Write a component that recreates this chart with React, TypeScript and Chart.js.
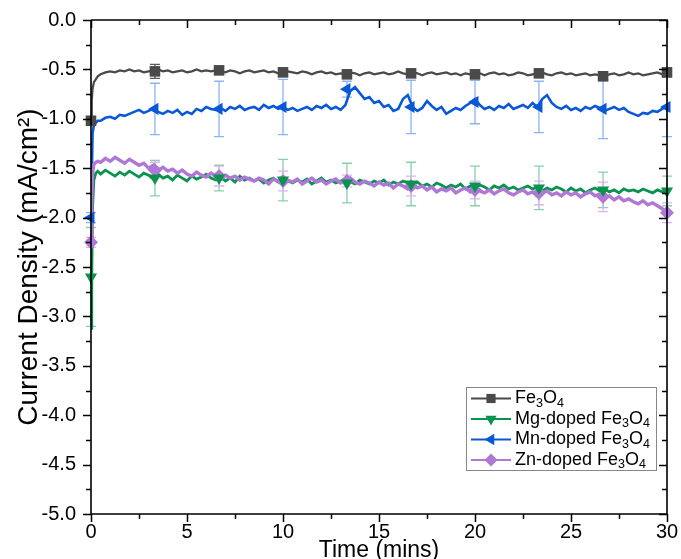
import React, { useEffect, useRef } from 'react';
import { Chart, registerables } from 'chart.js';

Chart.register(...registerables);

// ---------- data ----------
const headTimes = [0, 0.04, 0.08, 0.15, 0.25, 0.35];
const gridStart = 0.5;
const gridStep = 0.25;
const gridCount = 119; // 0.5 .. 30
const timeMins: number[] = [...headTimes];
for (let k = 0; k < gridCount; k++) timeMins.push(+(gridStart + k * gridStep).toFixed(2));

const fe3o4 = [
  -1.04, -0.82, -0.70, -0.63, -0.60, -0.57,
  -0.55, -0.53, -0.52, -0.53, -0.51, -0.52, -0.50, -0.52,
  -0.51, -0.53, -0.52, -0.51, -0.50, -0.52, -0.51, -0.53,
  -0.52, -0.51, -0.53, -0.52, -0.50, -0.52, -0.51, -0.52,
  -0.51, -0.52, -0.53, -0.51, -0.52, -0.54, -0.52, -0.51,
  -0.53, -0.52, -0.51, -0.53, -0.52, -0.54, -0.53, -0.52,
  -0.53, -0.54, -0.52, -0.53, -0.55, -0.53, -0.52, -0.54,
  -0.53, -0.55, -0.54, -0.55, -0.53, -0.54, -0.56, -0.54,
  -0.53, -0.55, -0.54, -0.53, -0.55, -0.54, -0.52, -0.54,
  -0.55, -0.53, -0.54, -0.56, -0.54, -0.53, -0.55, -0.54,
  -0.53, -0.55, -0.54, -0.56, -0.54, -0.55, -0.53, -0.54,
  -0.56, -0.54, -0.53, -0.55, -0.54, -0.56, -0.55, -0.53,
  -0.54, -0.56, -0.55, -0.54, -0.53, -0.55, -0.56, -0.54,
  -0.53, -0.55, -0.54, -0.56, -0.55, -0.54, -0.56, -0.55,
  -0.56, -0.57, -0.55, -0.54, -0.56, -0.55, -0.53, -0.55,
  -0.54, -0.56, -0.55, -0.54, -0.53, -0.55, -0.53,
];

const mgDoped = [
  -3.12, -2.60, -1.90, -1.62, -1.55, -1.53,
  -1.56, -1.52, -1.55, -1.58, -1.54, -1.57, -1.53, -1.56,
  -1.59, -1.55, -1.57, -1.61, -1.56, -1.60, -1.58, -1.62,
  -1.57, -1.60, -1.63, -1.58, -1.61, -1.59, -1.56, -1.60,
  -1.62, -1.59, -1.63, -1.60, -1.64, -1.58, -1.62, -1.60,
  -1.63, -1.61, -1.65, -1.62, -1.60, -1.64, -1.61, -1.63,
  -1.65, -1.62, -1.64, -1.61, -1.66, -1.63, -1.60, -1.64,
  -1.62, -1.65, -1.63, -1.61, -1.64, -1.66, -1.62, -1.64,
  -1.66, -1.63, -1.65, -1.62, -1.67, -1.64, -1.66, -1.63,
  -1.65, -1.67, -1.64, -1.68, -1.66, -1.69, -1.65, -1.67,
  -1.70, -1.67, -1.69, -1.66, -1.71, -1.68, -1.70, -1.67,
  -1.69, -1.72, -1.68, -1.70, -1.67, -1.71, -1.69, -1.72,
  -1.70, -1.68, -1.71, -1.69, -1.73, -1.70, -1.72, -1.69,
  -1.71, -1.74, -1.70, -1.73, -1.71, -1.75, -1.72, -1.70,
  -1.73, -1.71, -1.74, -1.72, -1.75, -1.71, -1.73, -1.72,
  -1.74, -1.71, -1.73, -1.75, -1.72, -1.74, -1.73,
];

const mnDoped = [
  -2.05, -1.60, -1.15, -1.06, -1.04, -1.02,
  -1.02, -0.99, -0.98, -1.00, -0.96, -0.97, -0.95, -0.93,
  -0.91, -0.94, -0.92, -0.90, -0.93, -0.95, -0.92, -0.94,
  -0.91, -0.96, -0.93, -0.95, -0.90, -0.92, -0.88, -0.90,
  -0.91, -0.89, -0.92, -0.88, -0.90, -0.87, -0.91, -0.89,
  -0.88, -0.91, -0.86, -0.89, -0.87, -0.90, -0.88, -0.91,
  -0.89, -0.92, -0.90, -0.88, -0.91, -0.87, -0.89, -0.86,
  -0.90, -0.88, -0.91, -0.86, -0.72, -0.68, -0.74, -0.80,
  -0.78, -0.84, -0.82, -0.88, -0.86, -0.92, -0.90, -0.80,
  -0.76, -0.88, -0.92, -0.89, -0.82, -0.87, -0.91, -0.88,
  -0.95, -0.92, -0.89, -0.91, -0.87, -0.84, -0.80, -0.86,
  -0.90, -0.88, -0.91, -0.87, -0.89, -0.85, -0.90, -0.88,
  -0.86, -0.89, -0.84, -0.88, -0.80, -0.76, -0.84, -0.88,
  -0.90, -0.87, -0.91, -0.89, -0.92, -0.88, -0.90, -0.87,
  -0.89, -0.92, -0.90, -0.88, -0.91, -0.89, -0.93, -0.95,
  -0.97, -0.94, -0.95, -0.92, -0.93, -0.90, -0.87,
];

const znDoped = [
  -2.25, -1.85, -1.55, -1.46, -1.44, -1.43,
  -1.44, -1.40, -1.43, -1.39, -1.42, -1.45, -1.41, -1.44,
  -1.47, -1.45, -1.50, -1.47, -1.52, -1.49, -1.53, -1.51,
  -1.55, -1.52, -1.56, -1.58, -1.54, -1.57, -1.59, -1.55,
  -1.58, -1.61, -1.57, -1.60, -1.58, -1.62, -1.59, -1.61,
  -1.63, -1.60, -1.62, -1.66, -1.61, -1.63, -1.65, -1.62,
  -1.64, -1.61, -1.66, -1.63, -1.60, -1.64, -1.62, -1.66,
  -1.63, -1.61, -1.65, -1.62, -1.60, -1.64, -1.66, -1.63,
  -1.65, -1.68, -1.64, -1.67, -1.65, -1.70, -1.66, -1.68,
  -1.71, -1.67, -1.70, -1.68, -1.72, -1.69, -1.74, -1.71,
  -1.73, -1.70, -1.75, -1.72, -1.70, -1.74, -1.71, -1.73,
  -1.75, -1.72, -1.76, -1.73, -1.71, -1.75, -1.77, -1.74,
  -1.72, -1.76, -1.74, -1.78, -1.75, -1.73, -1.77, -1.75,
  -1.78, -1.74, -1.77, -1.75, -1.79, -1.76, -1.74, -1.78,
  -1.76, -1.80, -1.78, -1.82, -1.79, -1.83, -1.81, -1.84,
  -1.86, -1.83, -1.87, -1.85, -1.88, -1.91, -1.95,
];

const markerTimes = [0, 3.33, 6.67, 10, 13.33, 16.67, 20, 23.33, 26.67, 30];
const feMarkers = [-1.02, -0.52, -0.51, -0.53, -0.55, -0.54, -0.55, -0.54, -0.57, -0.53];
const feErrors = [0.03, 0.07, 0.04, 0.04, 0.03, 0.03, 0.03, 0.03, 0.04, 0.04];
const mgMarkers = [-2.6, -1.6, -1.6, -1.62, -1.65, -1.66, -1.68, -1.7, -1.72, -1.73];
const mgErrors = [0.5, 0.18, 0.13, 0.21, 0.2, 0.22, 0.2, 0.22, 0.18, 0.15];
const mnMarkers = [-2.0, -0.9, -0.9, -0.88, -0.7, -0.88, -0.83, -0.88, -0.9, -0.88];
const mnErrors = [0.05, 0.26, 0.28, 0.28, 0.08, 0.27, 0.22, 0.26, 0.3, 0.3];
const znMarkers = [-2.25, -1.52, -1.58, -1.63, -1.63, -1.68, -1.72, -1.75, -1.79, -1.95];
const znErrors = [0.05, 0.08, 0.1, 0.1, 0.06, 0.1, 0.09, 0.12, 0.15, 0.1];

const seriesNames = ['Fe3O4', 'Mg-doped Fe3O4', 'Mn-doped Fe3O4', 'Zn-doped Fe3O4'];
const yTickMin = -5;
const yTickMax = 0;
const xTickMin = 0;
const xTickMax = 30;

// ---------- styles ----------
const FONT = "'Liberation Sans', Arial, sans-serif";
const styles = [
  { color: '#4a4a4a', err: '#5a5a5a', shape: 'rect', rot: 0, lw: 2.2 },
  { color: '#09934f', err: '#8ccfa9', shape: 'triangle', rot: 180, lw: 2.8 },
  { color: '#0a58d6', err: '#8ab5f0', shape: 'triangle', rot: 270, lw: 2.6 },
  { color: '#b078d6', err: '#dcb3ef', shape: 'rectRot', rot: 0, lw: 3.4 },
];
const seriesValues = [fe3o4, mgDoped, mnDoped, znDoped];
const markerValues = [feMarkers, mgMarkers, mnMarkers, znMarkers];
const errorValues = [feErrors, mgErrors, mnErrors, znErrors];
const lineOrder = [4, 2, 3, 1];

const isMajor = (v: number, step: number) => Math.abs(v / step - Math.round(v / step)) < 1e-6;

function drawMarker(ctx: CanvasRenderingContext2D, shape: string, rot: number, x: number, y: number, r: number) {
  ctx.beginPath();
  if (shape === 'rect') {
    const s = r * Math.SQRT1_2;
    ctx.rect(x - s, y - s, 2 * s, 2 * s);
  } else if (shape === 'rectRot') {
    ctx.moveTo(x, y - r);
    ctx.lineTo(x + r, y);
    ctx.lineTo(x, y + r);
    ctx.lineTo(x - r, y);
    ctx.closePath();
  } else {
    let a = (rot * Math.PI) / 180;
    ctx.moveTo(x + Math.sin(a) * r, y - Math.cos(a) * r);
    for (let k = 0; k < 2; k++) {
      a += (2 * Math.PI) / 3;
      ctx.lineTo(x + Math.sin(a) * r, y - Math.cos(a) * r);
    }
    ctx.closePath();
  }
  ctx.fill();
}

const errorBarPlugin = {
  id: 'errorBars',
  beforeDatasetsDraw(chart: any) {
    const { ctx, scales } = chart;
    const xs = scales.x;
    const ys = scales.y;
    ctx.save();
    chart.data.datasets.forEach((ds: any) => {
      if (!ds.errorBars) return;
      ctx.strokeStyle = ds.errorColor;
      ctx.lineWidth = 1.3;
      ds.data.forEach((p: any, j: number) => {
        const e = ds.errorBars[j];
        const x = xs.getPixelForValue(p.x);
        const y1 = ys.getPixelForValue(p.y + e);
        const y2 = ys.getPixelForValue(p.y - e);
        ctx.beginPath();
        ctx.moveTo(x, y1);
        ctx.lineTo(x, y2);
        ctx.moveTo(x - 5, y1);
        ctx.lineTo(x + 5, y1);
        ctx.moveTo(x - 5, y2);
        ctx.lineTo(x + 5, y2);
        ctx.stroke();
      });
    });
    ctx.restore();
  },
};

const framePlugin = {
  id: 'frame',
  afterDatasetsDraw(chart: any) {
    const { ctx, chartArea: a, scales } = chart;
    ctx.save();
    ctx.strokeStyle = '#000';
    ctx.lineWidth = 1.6;
    ctx.beginPath();
    ctx.moveTo(a.left, a.top);
    ctx.lineTo(a.right, a.top);
    ctx.lineTo(a.right, a.bottom);
    ctx.moveTo(a.left, a.top);
    ctx.lineTo(a.left, a.bottom);
    ctx.lineTo(a.right, a.bottom);
    ctx.stroke();
    ctx.lineWidth = 1.5;
    ctx.beginPath();
    scales.y.ticks.forEach((t: any) => {
      const y = Math.round(scales.y.getPixelForValue(t.value)) + 0.5;
      const len = isMajor(t.value, 0.5) ? 8 : 5;
      ctx.moveTo(a.left - len, y);
      ctx.lineTo(a.left, y);
      ctx.moveTo(a.right, y);
      ctx.lineTo(a.right - len, y);
    });
    scales.x.ticks.forEach((t: any) => {
      const x = Math.round(scales.x.getPixelForValue(t.value)) + 0.5;
      const len = isMajor(t.value, 5) ? 8 : 5;
      ctx.moveTo(x, a.bottom);
      ctx.lineTo(x, a.bottom + len);
      ctx.moveTo(x, a.top);
      ctx.lineTo(x, a.top + len);
    });
    ctx.stroke();
    ctx.restore();
  },
};

const legendPlugin = {
  id: 'customLegend',
  afterDraw(chart: any) {
    const { ctx } = chart;
    const box = { x: 466, y: 387, w: 190, h: 83 };
    ctx.save();
    ctx.fillStyle = '#fff';
    ctx.fillRect(box.x, box.y, box.w, box.h);
    ctx.strokeStyle = '#888';
    ctx.lineWidth = 1;
    ctx.strokeRect(box.x + 0.5, box.y + 0.5, box.w, box.h);
    seriesNames.forEach((name, i) => {
      const st = styles[i];
      const y = box.y + 11.5 + i * 20.5;
      ctx.strokeStyle = st.color;
      ctx.lineWidth = 2.2;
      ctx.beginPath();
      ctx.moveTo(box.x + 5, y);
      ctx.lineTo(box.x + 45, y);
      ctx.stroke();
      ctx.fillStyle = st.color;
      drawMarker(ctx, st.shape, st.rot, box.x + 25, y, 6.5);
      ctx.fillStyle = '#000';
      ctx.textBaseline = 'middle';
      let x = box.x + 49;
      const parts = name.match(/\d|[^\d]+/g) || [];
      parts.forEach((p) => {
        if (/^\d$/.test(p)) {
          ctx.font = `12.5px ${FONT}`;
          ctx.fillText(p, x, y + 5);
        } else {
          ctx.font = `18px ${FONT}`;
          ctx.fillText(p, x, y);
        }
        x += ctx.measureText(p).width;
      });
    });
    ctx.restore();
  },
};

export default function App() {
  const ref = useRef<HTMLCanvasElement>(null);
  useEffect(() => {
    document.body.style.margin = '0';
    const canvas = ref.current;
    if (!canvas) return;
    Chart.defaults.font.family = FONT;
    const datasets: any[] = [];
    seriesValues.forEach((vals, i) => {
      datasets.push({
        type: 'line',
        label: seriesNames[i],
        data: timeMins.map((t, k) => ({ x: t, y: vals[k] })),
        borderColor: styles[i].color,
        borderWidth: styles[i].lw,
        pointRadius: 0,
        tension: 0,
        fill: false,
        order: lineOrder[i],
      });
    });
    markerValues.forEach((vals, i) => {
      datasets.push({
        type: 'line',
        label: seriesNames[i] + ' markers',
        data: markerTimes.map((t, k) => ({ x: t, y: vals[k] })),
        showLine: false,
        pointStyle: styles[i].shape,
        pointRotation: styles[i].rot,
        pointRadius: styles[i].shape === 'rect' ? 7.5 : 7,
        pointBackgroundColor: styles[i].color,
        pointBorderColor: styles[i].color,
        pointBorderWidth: 0,
        errorBars: errorValues[i],
        errorColor: styles[i].err,
        clip: false,
        order: 0,
      });
    });
    const chart = new Chart(canvas, {
      type: 'line',
      data: { datasets },
      options: {
        animation: false,
        responsive: false,
        layout: { padding: { left: 12, top: 20, right: 14, bottom: 0 } },
        plugins: { legend: { display: false }, tooltip: { enabled: false } },
        scales: {
          x: {
            type: 'linear',
            min: xTickMin,
            max: xTickMax,
            afterFit: (s: any) => { s.height = 45; },
            border: { display: false },
            grid: { drawOnChartArea: false, drawTicks: true, tickLength: 8, tickColor: 'rgba(0,0,0,0)' },
            ticks: {
              stepSize: 2.5,
              autoSkip: false,
              maxRotation: 0,
              padding: -2,
              color: '#000',
              font: { size: 20, family: FONT },
              callback: (v: any) => (isMajor(Number(v), 5) ? String(v) : ''),
            },
            title: { display: true, text: 'Time (mins)', color: '#000', font: { size: 23, family: FONT }, padding: { top: 0, bottom: -5 } },
          },
          y: {
            type: 'linear',
            min: yTickMin,
            max: yTickMax,
            afterFit: (s: any) => { s.width = 79; },
            border: { display: false },
            grid: { drawOnChartArea: false, drawTicks: true, tickLength: 8, tickColor: 'rgba(0,0,0,0)' },
            ticks: {
              stepSize: 0.25,
              autoSkip: false,
              padding: 7,
              color: '#000',
              font: { size: 20, family: FONT },
              callback: (v: any) => (isMajor(Number(v), 0.5) ? Number(v).toFixed(1) : ''),
            },
            title: { display: true, text: 'Current Density (mA/cm²)', color: '#000', font: { size: 28, family: FONT }, padding: { top: 0, bottom: 0 } },
          },
        },
      },
      plugins: [errorBarPlugin, framePlugin, legendPlugin],
    } as any);
    return () => chart.destroy();
  }, []);
  return (
    <div style={{ position: 'absolute', left: 0, top: 0, width: 681, height: 559 }}>
      <canvas ref={ref} width={681} height={559} />
    </div>
  );
}
